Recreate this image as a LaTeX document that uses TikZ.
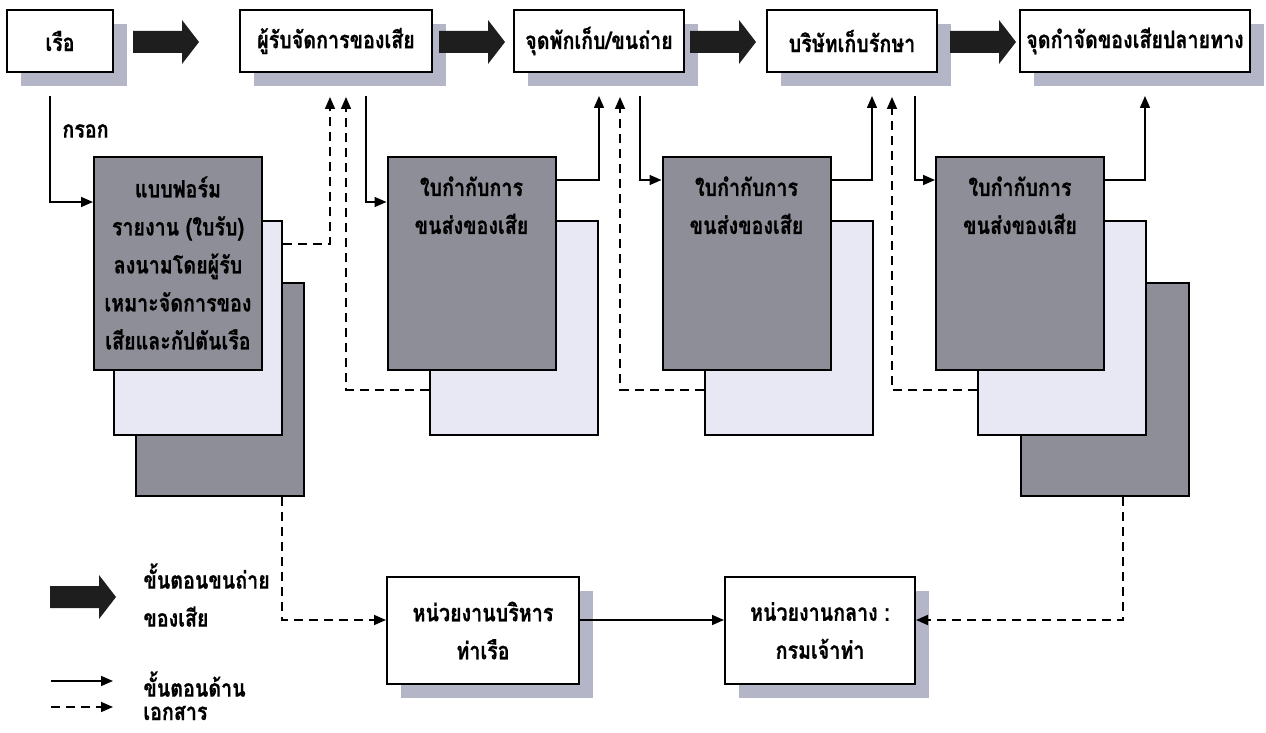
\documentclass[tikz,border=0pt]{standalone}
\usepackage{fontspec}
\newfontfamily\thaifont[Script=Thai,FakeStretch=0.82,FakeBold=0.6]{Loma}
\usetikzlibrary{positioning,arrows.meta,shadows}

\definecolor{sheetdark}{HTML}{8E8E98}
\definecolor{sheetlight}{HTML}{E8E8F4}
\definecolor{shadowgray}{HTML}{B4B6C8}
\definecolor{fatgray}{HTML}{1E1E1E}

\tikzset{
  thaitext/.style={font=\thaifont\bfseries\fontsize{12}{19}\selectfont, align=center, inner sep=0pt},
  station/.style={draw, line width=1pt, fill=white, minimum height=31pt, inner sep=0pt,
    thaitext, drop shadow={shadow xshift=7pt, shadow yshift=-7pt, fill=shadowgray, opacity=1}},
  office/.style={station, minimum height=53.5pt},
  sheet/.style={draw, line width=1pt, minimum width=84pt, minimum height=106.5pt, inner sep=0pt},
  frontsheet/.style={sheet, fill=sheetdark},
  midsheet/.style={sheet, fill=sheetlight},
  backsheet/.style={sheet, fill=sheetdark},
  flow/.style={line width=0.8pt, -{Triangle[length=6pt,width=5pt]}},
  doc/.style={flow, dash pattern=on 4.5pt off 3pt},
  fatarrow/.pic={\fill[fatgray] (0,-11) -- (49,-11) -- (49,-22) -- (66,0) -- (49,22) -- (49,11) -- (0,11) -- cycle;}
}

\begin{document}
\begin{tikzpicture}[x=0.5pt,y=-0.5pt]
  \useasboundingbox (0,0) rectangle (1266,733);

  % Stasjoner
  \node[station, minimum width=53pt] (ship) at (60,41) {เรือ};
  \node[station, minimum width=96pt] (agent) at (336,41) {ผู้รับจัดการของเสีย};
  \node[station, minimum width=85pt] (transfer) at (599,41) {จุดพักเก็บ/ขนถ่าย};
  \node[station, minimum width=85pt] (storage) at (852,41) {บริษัทเก็บรักษา};
  \node[station, minimum width=115pt] (disposal) at (1135,41) {จุดกำจัดของเสียปลายทาง};
  \foreach \x in {133,439,690,950} {
    \pic at (\x,42) {fatarrow};
  }

  % Skjema og ledsagedokumenter
  \node[backsheet] (back1) at (219.5,389.5) {};
  \node[backsheet] (back4) at (1104.5,389.5) {};
  \node[midsheet] (mid1) at (197.5,328) {};
  \node[frontsheet] (front1) at (178,263.5) {};
  \node[thaitext, below=10pt of front1.north] (form1txt)
    {แบบฟอร์ม\\รายงาน (ใบรับ)\\ลงนามโดยผู้รับ\\เหมาะจัดการของ\\เสียและกัปตันเรือ};
  \foreach \n/\x in {2/471.5,3/746.5,4/1020} {
    \node[midsheet] (mid\n) at (\x+42,328) {};
    \node[frontsheet] (front\n) at (\x,263.5) {};
    \node[thaitext, below=10pt of front\n.north] (front\n txt) {ใบกำกับการ\\ขนส่งของเสีย};
  }

  % Myndigheter
  \node[office, minimum width=96pt] (port) at (483,630.5) {หน่วยงานบริหาร\\ท่าเรือ};
  \node[office, minimum width=95pt] (central) at (820,630.5) {หน่วยงานกลาง :\\กรมเจ้าท่า};

  % Dokumentflyt
  \draw[flow] ([shift={(-10,23)}]ship.south) |- (front1.west |- 0,202);
  \node[thaitext, anchor=west] (filltxt) at (62,131) {กรอก};
  \draw[flow] ([shift={(30,23)}]agent.south) |- (front2.west |- 0,202);
  \draw[flow] (front2.east |- 0,180) -| ([shift={(0,23)}]transfer.south);
  \draw[flow] ([shift={(41,23)}]transfer.south) |- (front3.west |- 0,180);
  \draw[flow] (front3.east |- 0,180) -| ([shift={(20,23)}]storage.south);
  \draw[flow] ([shift={(63,23)}]storage.south) |- (front4.west |- 0,180);
  \draw[flow] (front4.east |- 0,180) -| ([shift={(10,23)}]disposal.south);
  \draw[flow] (port.east |- 0,620) -- (central.west |- 0,620);

  \draw[doc] (mid1.east |- 0,244) -| ([shift={(-6,24)}]agent.south);
  \draw[doc] (mid2.west |- 0,390) -| ([shift={(10,24)}]agent.south);
  \draw[doc] (mid3.west |- 0,390) -| ([shift={(21,24)}]transfer.south);
  \draw[doc] (mid4.west |- 0,390) -| ([shift={(40,24)}]storage.south);
  \draw[doc] (back1.south -| 282,0) |- (port.west |- 0,620);
  \draw[doc] (back4.south -| 1123,0) |- (central.east |- 0,620);

  % Tegnforklaring
  \pic at (50,597) {fatarrow};
  \node[thaitext, align=left, anchor=west] (legfat) at (143,595) {ขั้นตอนขนถ่าย\\ของเสีย};
  \coordinate (legflowA) at (51,681);
  \coordinate (legflowB) at (113,681);
  \coordinate (legdocA) at (51,707);
  \coordinate (legdocB) at (113,707);
  \draw[flow] (legflowA) -- (legflowB);
  \draw[doc] (legdocA) -- (legdocB);
  \node[thaitext, anchor=west] (legline) at (143,684) {ขั้นตอนด้าน};
  \node[thaitext, anchor=west] (legline2) at (143,713) {เอกสาร};
\end{tikzpicture}
\end{document}
